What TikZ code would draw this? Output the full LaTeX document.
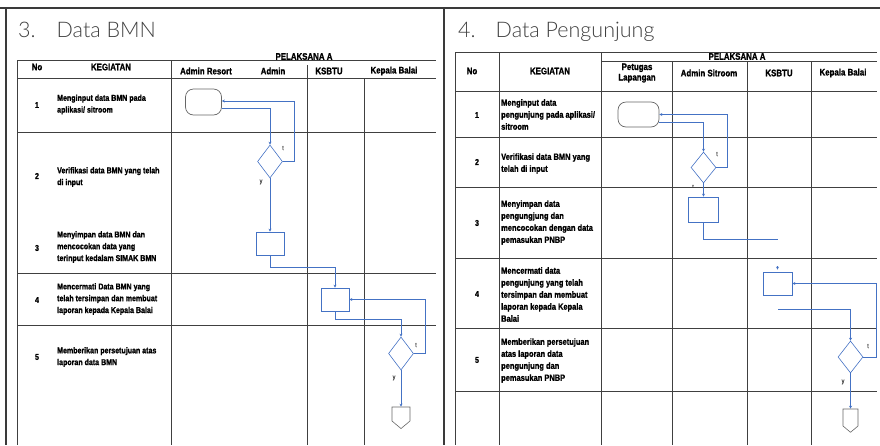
\documentclass[tikz,border=0pt]{standalone}
\usepackage{fontspec}
\setmainfont{Liberation Sans}
\newfontfamily\tabfont[FakeStretch=0.83,FakeBold=1.2]{Liberation Sans}
\newfontfamily\headfont{Lato Light}
\usepackage{xcolor}
\usepackage{tikz}
\usetikzlibrary{shapes.geometric,shapes.symbols,arrows.meta}
\definecolor{flowblue}{HTML}{4472C4}
\definecolor{gridgray}{HTML}{404040}
\definecolor{framegray}{HTML}{3A3A3A}

\begin{document}
\begin{tikzpicture}[
    x=1pt, y=-1pt,
    grid/.style={draw=gridgray, line width=0.7pt},
    frame/.style={draw=framegray, line width=2.6pt},
    title/.style={font=\headfont\fontsize{21.5}{24}\selectfont, text=black!75, anchor=base west, inner sep=0pt},
    head/.style={font=\tabfont\bfseries\fontsize{9.5}{10.5}\selectfont, align=center, inner sep=0pt},
    num/.style={font=\tabfont\bfseries\fontsize{8.5}{9}\selectfont, inner sep=0pt},
    task/.style={font=\tabfont\bfseries\fontsize{8.5}{11.8}\selectfont, align=left, anchor=west, inner sep=0pt},
    vistask/.style={task, font=\tabfont\bfseries\fontsize{9}{12}\selectfont},
    flowlbl/.style={font=\tabfont\fontsize{6.5}{7}\selectfont, text=black!70, inner sep=0pt},
    terminal/.style={rectangle, rounded corners=8pt, draw=black!60, line width=0.7pt, minimum width=36pt, minimum height=26pt, inner sep=0pt},
    decision/.style={diamond, draw=flowblue, line width=0.6pt, minimum width=25pt, minimum height=33pt, inner sep=0pt},
    process/.style={rectangle, draw=flowblue, line width=0.7pt, minimum width=28pt, minimum height=23pt, inner sep=0pt},
    offpage/.style={signal, signal to=south, signal pointer angle=100, draw=black!60, line width=0.6pt, minimum width=18pt, minimum height=14pt, inner sep=0pt},
    arrow/.style={-{Stealth[length=3pt, width=3pt]}, draw=flowblue, line width=0.6pt},
    link/.style={draw=flowblue, line width=0.6pt}
]
\useasboundingbox (0,0) rectangle (880,445);

\draw[frame] (0,8) -- (880,8);
\draw[frame] (6,8) -- (6,445);
\draw[frame] (444,8) -- (444,445);

\node[title] (bmnTitle) at (18,37) {3.\hspace{21pt}Data BMN};
\node[title] (visTitle) at (458,37) {4.\hspace{20pt}Data Pengunjung};

\draw[grid] (17,60) -- (436,60);
\draw[grid] (17,78) -- (436,78);
\draw[grid] (17,132) -- (436,132);
\draw[grid] (17,273) -- (436,273);
\draw[grid] (17,325) -- (436,325);
\draw[grid] (17,60) -- (17,445);
\draw[grid] (171,60) -- (171,445);
\draw[grid] (307,65) -- (307,445);
\draw[grid] (364,78) -- (364,445);

\node[head] (bmnNoHead) at (37,67) {No};
\node[head] (bmnTaskHead) at (111,67) {KEGIATAN};
\node[head] (bmnActHead) at (304,56.5) {PELAKSANA A};
\node[head] (bmnResort) at (206,71) {Admin Resort};
\node[head] (bmnAdmin) at (273,71) {Admin};
\node[head] (bmnKsbtu) at (329,71) {KSBTU};
\node[head] (bmnKepala) at (394,71) {Kepala Balai};

\node[num] (bmnNumA) at (37,105) {1};
\node[num] (bmnNumB) at (37,176) {2};
\node[num] (bmnNumC) at (37,248) {3};
\node[num] (bmnNumD) at (37,300) {4};
\node[num] (bmnNumE) at (37,357) {5};
\node[task] (bmnTaskA) at (57,104.5) {Menginput data BMN pada\\aplikasi/ sitroom};
\node[task] (bmnTaskB) at (57,177) {Verifikasi data BMN yang telah\\di input};
\node[task] (bmnTaskC) at (57,247) {Menyimpan data BMN dan\\mencocokan data yang\\terinput kedalam SIMAK BMN};
\node[task] (bmnTaskD) at (57,299) {Mencermati Data BMN yang\\telah tersimpan dan membuat\\laporan kepada Kepala Balai};
\node[task] (bmnTaskE) at (57,357) {Memberikan persetujuan atas\\laporan data BMN};

\node[terminal] (bmnStart) at (203.5,102) {};
\node[decision] (bmnCheck) at (270,161.5) {};
\node[process] (bmnSave) at (270,243.5) {};
\node[process] (bmnReview) at (335,299.5) {};
\node[decision] (bmnApprove) at (401,353.5) {};
\node[offpage] (bmnEnd) at (401,414) {};

\draw[arrow] (bmnCheck.east) -- ++(11,0) |- ([yshift=1pt]bmnStart.east);
\draw[arrow] ([yshift=-6pt]bmnStart.east) -| (bmnCheck.north);
\draw[arrow] (bmnCheck.south) -- (bmnSave.north);
\draw[arrow] (bmnSave.south) -- ++(0,12) -| (bmnReview.north);
\draw[arrow] (bmnReview.south) -- ++(0,8) -| (bmnApprove.north);
\draw[arrow] (bmnApprove.east) -- ++(11,0) |- (bmnReview.east);
\draw[arrow] (bmnApprove.south) -- (bmnEnd.north);

\node[flowlbl] (bmnCheckNo) at (283,148) {t};
\node[flowlbl] (bmnCheckYes) at (261,182) {y};
\node[flowlbl] (bmnApproveNo) at (416,345) {t};
\node[flowlbl] (bmnApproveYes) at (394,378) {y};

\draw[grid] (455,52) -- (877,52);
\draw[grid] (601,61) -- (877,61);
\draw[grid] (455,91) -- (877,91);
\draw[grid] (455,137) -- (877,137);
\draw[grid] (455,187) -- (877,187);
\draw[grid] (455,258) -- (877,258);
\draw[grid] (455,328) -- (877,328);
\draw[grid] (455,391) -- (877,391);
\draw[grid] (455,52) -- (455,445);
\draw[grid] (499,52) -- (499,445);
\draw[grid] (601,52) -- (601,445);
\draw[grid] (672,61) -- (672,445);
\draw[grid] (747,61) -- (747,445);
\draw[grid] (811,61) -- (811,445);

\node[head] (visNoHead) at (472,71) {No};
\node[head] (visTaskHead) at (550,71) {KEGIATAN};
\node[head] (visActHead) at (737,56.5) {PELAKSANA A};
\node[head] (visPetugas) at (637,73) {Petugas\\Lapangan};
\node[head] (visAdmin) at (709,73) {Admin Sitroom};
\node[head] (visKsbtu) at (779,73) {KSBTU};
\node[head] (visKepala) at (843,73) {Kepala Balai};

\node[num] (visNumA) at (477,115) {1};
\node[num] (visNumB) at (477,162) {2};
\node[num] (visNumC) at (477,223) {3};
\node[num] (visNumD) at (477,294) {4};
\node[num] (visNumE) at (477,360) {5};
\node[vistask] (visTaskA) at (501,114.5) {Menginput data\\pengunjung pada aplikasi/\\sitroom};
\node[vistask] (visTaskB) at (501,163.5) {Verifikasi data BMN yang\\telah di input};
\node[vistask] (visTaskC) at (501,222.5) {Menyimpan data\\pengungjung dan\\mencocokan dengan data\\pemasukan PNBP};
\node[vistask] (visTaskD) at (501,294.5) {Mencermati data\\pengunjung yang telah\\tersimpan dan membuat\\laporan kepada Kepala\\Balai};
\node[vistask] (visTaskE) at (501,360.5) {Memberikan persetujuan\\atas laporan data\\pengunjung dan\\pemasukan PNBP};

\node[terminal, minimum width=41pt, minimum height=25pt] (visStart) at (638.5,114.5) {};
\node[decision, minimum height=31pt] (visCheck) at (703.5,167.5) {};
\node[process, minimum width=30pt, minimum height=25pt] (visSave) at (703.5,209.5) {};
\node[process, minimum width=29pt] (visReview) at (777.5,283.5) {};
\node[decision, minimum height=32pt] (visApprove) at (850.5,357) {};
\node[offpage, minimum width=15pt, minimum height=17pt] (visEnd) at (850.5,417.5) {};
\coordinate (visOpen) at (778,239);
\coordinate (visStub) at (777.5,266);
\coordinate (visFeed) at (778,309);

\draw[arrow] (visCheck.east) -- ++(11,0) |- (visStart.east);
\draw[arrow] ([yshift=-7.5pt]visStart.east) -| (visCheck.north);
\draw[arrow] (visCheck.south) -- (visSave.north);
\draw[link] (visSave.south) |- (visOpen);
\draw[arrow] (visStub) -- ([yshift=2pt]visReview.north);
\draw[arrow] (visApprove.east) -- ++(13,0) |- (visReview.east);
\draw[arrow] (visFeed) -| (visApprove.north);
\draw[arrow] (visApprove.south) -- (visEnd.north);

\node[flowlbl] (visCheckNo) at (717,154) {t};
\node[flowlbl, font=\tabfont\fontsize{3}{3}\selectfont] (visCheckYes) at (693,186) {y};
\node[flowlbl] (visApproveNo) at (868,346) {t};
\node[flowlbl] (visApproveYes) at (843,382) {y};
\end{tikzpicture}
\end{document}
